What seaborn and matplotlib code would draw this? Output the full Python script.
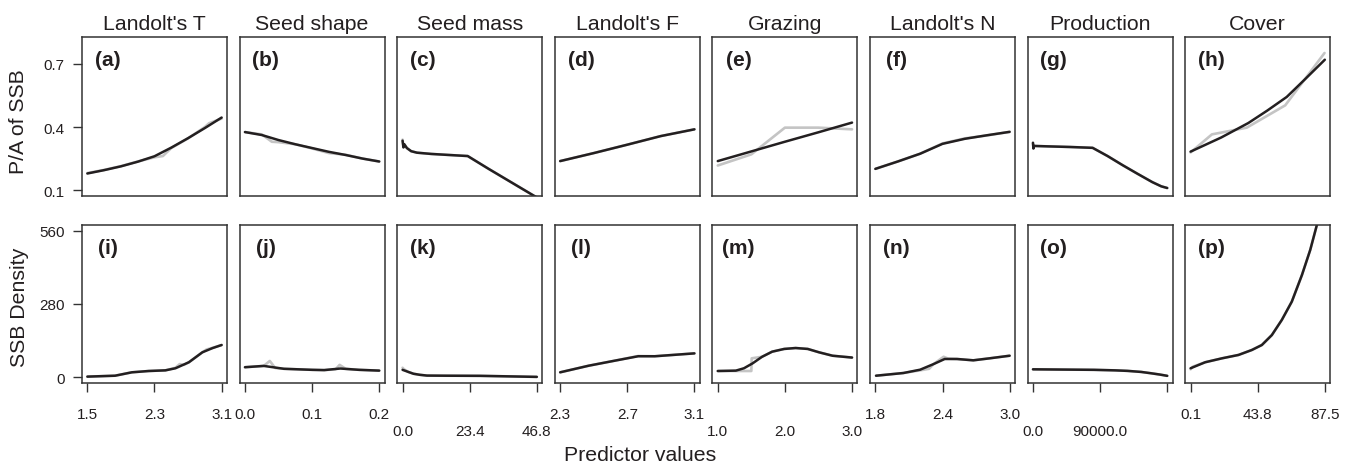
import numpy as np
import pandas as pd
import matplotlib
matplotlib.use("Agg")
import matplotlib.pyplot as plt
import seaborn as sns

# ---------------- data ----------------
titles = ["Landolt's T", "Seed shape", "Seed mass", "Landolt's F",
          "Grazing", "Landolt's N", "Production", "Cover"]
top_letters = ["(a)", "(b)", "(c)", "(d)", "(e)", "(f)", "(g)", "(h)"]
bottom_letters = ["(i)", "(j)", "(k)", "(l)", "(m)", "(n)", "(o)", "(p)"]

xtick_vals = [[1.5, 2.3, 3.1], [0.0, 0.1, 0.2], [0.0, 23.4, 46.8], [2.3, 2.7, 3.1],
              [1.0, 2.0, 3.0], [1.8, 2.4, 3.0], [0.0, 90000.0, 180000.0], [0.1, 43.8, 87.5]]
xtick_labels = [["1.5", "2.3", "3.1"], ["0.0", "0.1", "0.2"], ["0.0", "23.4", "46.8"],
                ["2.3", "2.7", "3.1"], ["1.0", "2.0", "3.0"], ["1.8", "2.4", "3.0"],
                ["0.0", "90000.0", ""], ["0.1", "43.8", "87.5"]]
label_line = [1, 1, 2, 1, 2, 1, 2, 1]

top_yticks = [0.1, 0.4, 0.7]
top_ylim = [0.1, 0.8]
bot_yticks = [0, 280, 560]
bot_ylim = [0, 560]

# --- top row: P/A of SSB (fitted = black, raw = grey)
a_x = [1.5, 1.7, 1.9, 2.1, 2.3, 2.5, 2.7, 2.9, 3.1]
a_fit = [0.179, 0.195, 0.213, 0.235, 0.261, 0.302, 0.347, 0.395, 0.445]
a_rx = [1.5, 1.7, 1.9, 2.1, 2.3, 2.4, 2.5, 2.7, 2.9, 2.95, 3.1]
a_raw = [0.181, 0.196, 0.214, 0.236, 0.256, 0.262, 0.300, 0.346, 0.400, 0.418, 0.440]

b_x = [0.0, 0.025, 0.05, 0.075, 0.1, 0.125, 0.15, 0.175, 0.2]
b_fit = [0.376, 0.362, 0.338, 0.318, 0.300, 0.282, 0.267, 0.250, 0.236]
b_rx = [0.0, 0.025, 0.04, 0.05, 0.075, 0.1, 0.125, 0.15, 0.175, 0.2]
b_raw = [0.376, 0.365, 0.330, 0.328, 0.318, 0.298, 0.276, 0.268, 0.250, 0.236]

c_x = [0.0, 0.3, 0.6, 1.5, 3.0, 5.0, 10.0, 15.0, 22.7, 30.0, 40.0, 46.8]
c_fit = [0.335, 0.303, 0.318, 0.300, 0.285, 0.278, 0.272, 0.268, 0.262, 0.201, 0.120, 0.065]
c_rx = c_x
c_raw = [0.340, 0.305, 0.318, 0.300, 0.285, 0.278, 0.272, 0.268, 0.262, 0.201, 0.120, 0.065]

d_x = [2.3, 2.5, 2.7, 2.9, 3.1]
d_fit = [0.238, 0.276, 0.316, 0.357, 0.389]
d_rx = d_x
d_raw = [0.238, 0.276, 0.316, 0.357, 0.389]

e_x = [1.0, 1.5, 2.0, 2.5, 3.0]
e_fit = [0.238, 0.284, 0.330, 0.375, 0.421]
e_rx = [1.0, 1.5, 2.0, 2.5, 3.0]
e_raw = [0.217, 0.270, 0.397, 0.397, 0.389]

f_x = [1.8, 2.0, 2.2, 2.4, 2.6, 2.8, 3.0]
f_fit = [0.201, 0.236, 0.273, 0.320, 0.344, 0.361, 0.377]
f_rx = f_x
f_raw = [0.201, 0.236, 0.273, 0.322, 0.346, 0.360, 0.377]

g_x = [0, 600, 1500, 20000, 50000, 80000, 100000, 120000, 140000, 160000, 172000, 180000]
g_fit = [0.325, 0.298, 0.310, 0.308, 0.305, 0.301, 0.262, 0.219, 0.178, 0.138, 0.118, 0.110]
g_rx = g_x
g_raw = g_fit

h_x = [0.1, 20.0, 37.7, 50.0, 62.7, 75.0, 87.5]
h_fit = [0.283, 0.350, 0.419, 0.478, 0.543, 0.630, 0.720]
h_rx = [0.1, 14.0, 36.7, 61.7, 87.3]
h_raw = [0.279, 0.365, 0.397, 0.503, 0.752]

# --- bottom row: SSB density
i_x = [1.5, 1.83, 2.03, 2.23, 2.43, 2.55, 2.71, 2.87, 2.99, 3.1]
i_fit = [2, 5.5, 18.5, 23.5, 26, 34, 57, 95, 111, 123]
i_rx = [1.5, 1.83, 2.03, 2.23, 2.43, 2.55, 2.6, 2.65, 2.71, 2.87, 2.92, 2.99, 3.1]
i_raw = [2, 5.5, 18.5, 23.5, 26, 36, 50, 47, 57, 95, 106, 112, 123]

j_x = [0.0, 0.028, 0.058, 0.1, 0.118, 0.142, 0.17, 0.2]
j_fit = [38, 43, 32, 28, 27, 33, 28, 25]
j_rx = [0.0, 0.028, 0.037, 0.045, 0.058, 0.1, 0.118, 0.135, 0.141, 0.15, 0.17, 0.2]
j_raw = [38, 43, 62, 35, 32, 28, 27, 30, 47, 32, 28, 25]

k_x = [0.0, 2.0, 3.8, 6.0, 8.5, 15.0, 27.0, 37.0, 46.8]
k_fit = [28, 20, 13, 9, 6, 5.5, 5, 3, 1]
k_rx = [0.0, 0.5, 2.0, 3.8, 6.0, 8.5, 15.0, 27.0, 37.0, 46.8]
k_raw = [36, 30, 20, 13, 9, 6, 5.5, 5, 3, 1]

l_x = [2.3, 2.47, 2.625, 2.765, 2.864, 3.1]
l_fit = [18.5, 43.8, 63, 80, 80, 91]
l_rx = l_x
l_raw = [18.5, 43.8, 63, 81, 80, 91]

m_x = [1.0, 1.27, 1.39, 1.52, 1.66, 1.81, 1.99, 2.16, 2.34, 2.51, 2.71, 3.0]
m_fit = [23.5, 25, 34, 53, 78, 97.5, 108, 111.5, 108, 95, 82, 75]
m_rx = [1.0, 1.27, 1.50, 1.505, 1.66, 1.81, 1.99, 2.16, 2.34, 2.51, 2.71, 3.0]
m_raw = [23.5, 23.5, 23.5, 72, 78, 97.5, 108, 111.5, 108, 95, 82, 75]

n_x = [1.806, 2.05, 2.20, 2.32, 2.42, 2.53, 2.675, 2.82, 3.0]
n_fit = [5.5, 15.8, 28.5, 50, 69.5, 69.5, 64.4, 72, 82]
n_rx = [1.806, 2.05, 2.20, 2.28, 2.32, 2.41, 2.45, 2.53, 2.675, 2.82, 3.0]
n_raw = [5.5, 15.8, 26, 32, 50, 78, 71, 69.5, 64.4, 72, 82]

o_x = [0, 40000, 81900, 110000, 126700, 145000, 158000, 170000, 180000]
o_fit = [30, 29, 28, 26, 24, 20, 15, 10, 5]
o_rx = o_x
o_raw = o_fit

p_x = [0.1, 9.6, 20.5, 31.3, 40.0, 46.5, 53.0, 59.5, 66.0, 72.6, 78.0, 82.3, 87.5]
p_fit = [34, 57, 72, 85, 104, 123, 161, 219, 289, 391, 487, 582, 697]
p_rx = [0.1, 1.5, 9.6, 20.5, 31.3, 40.0, 46.5, 53.0, 59.5, 66.0, 72.6, 78.0, 82.3, 87.5]
p_raw = [30, 40, 57, 72, 85, 104, 123, 161, 219, 289, 391, 487, 582, 697]

top_series = [(a_x, a_fit, a_rx, a_raw), (b_x, b_fit, b_rx, b_raw), (c_x, c_fit, c_rx, c_raw),
              (d_x, d_fit, d_rx, d_raw), (e_x, e_fit, e_rx, e_raw), (f_x, f_fit, f_rx, f_raw),
              (g_x, g_fit, g_rx, g_raw), (h_x, h_fit, h_rx, h_raw)]
bot_series = [(i_x, i_fit, i_rx, i_raw), (j_x, j_fit, j_rx, j_raw), (k_x, k_fit, k_rx, k_raw),
              (l_x, l_fit, l_rx, l_raw), (m_x, m_fit, m_rx, m_raw), (n_x, n_fit, n_rx, n_raw),
              (o_x, o_fit, o_rx, o_raw), (p_x, p_fit, p_rx, p_raw)]

# ---------------- style ----------------
sns.set_style("white")
plt.rcParams['font.family'] = ['Liberation Sans', 'DejaVu Sans']
INK = "#231f20"
GREY = "#c4c4c4"

W, H = 1352, 464
fig = plt.figure(figsize=(W / 100, H / 100), dpi=100)


def expand(lo, hi, f=0.04):
    r = hi - lo
    return lo - f * r, hi + f * r


panel_w = 145
rows = [(38, 197), (226, 384)]

for r, (series, letters) in enumerate([(top_series, top_letters), (bot_series, bottom_letters)]):
    ytop, ybot = rows[r]
    for c in range(8):
        left = 82 + c * 157.6
        ax = fig.add_axes([left / W, 1 - ybot / H, panel_w / W, (ybot - ytop) / H])
        xs, fit, rxs, raw = series[c]
        sns.lineplot(x=rxs, y=raw, ax=ax, color=GREY, lw=1.9, estimator=None, sort=False,
                     solid_joinstyle='round', solid_capstyle='round')
        sns.lineplot(x=xs, y=fit, ax=ax, color=INK, lw=1.8, estimator=None, sort=False,
                     solid_joinstyle='round', solid_capstyle='round')
        tv = xtick_vals[c]
        ax.set_xlim(*expand(tv[0], tv[-1]))
        if r == 0:
            ax.set_ylim(*expand(*top_ylim))
            ax.set_yticks(top_yticks)
            ax.set_yticklabels(["0.1", "0.4", "0.7"])
        else:
            ax.set_ylim(*expand(*bot_ylim))
            ax.set_yticks(bot_yticks)
            ax.set_yticklabels(["0", "280", "560"])
        ax.set_xticks(tv)
        ax.set_xticklabels(xtick_labels[c])
        for sp in ax.spines.values():
            sp.set_visible(True)
            sp.set_color("#333333")
            sp.set_linewidth(1.1)
        ax.tick_params(axis='both', direction='out', length=6.5, width=1.0,
                       color="#333333", labelsize=11, labelcolor=INK)
        ax.tick_params(axis='y', pad=6)
        if r == 0:
            ax.tick_params(axis='x', bottom=False, labelbottom=False)
        else:
            ax.tick_params(axis='x', bottom=True, labelbottom=True,
                           pad=10.5 if label_line[c] == 1 else 23)
        if c != 0:
            ax.tick_params(axis='y', left=False, labelleft=False)
        else:
            ax.tick_params(axis='y', left=True, labelleft=True)
        ax.set_xlabel("")
        ax.set_ylabel("")
        ax.text(0.18, 0.86, letters[c], transform=ax.transAxes, ha='center', va='center',
                fontsize=15, fontweight='bold', color=INK)
        if r == 0:
            fig.text((left + panel_w / 2) / W, 1 - 24 / H, titles[c], ha='center', va='center',
                     fontsize=15.3, color=INK)

fig.text(19 / W, 1 - 122 / H, "P/A of SSB", rotation=90, ha='center', va='center',
         fontsize=15.3, color=INK)
fig.text(20 / W, 1 - 307 / H, "SSB Density", rotation=90, ha='center', va='center',
         fontsize=15.3, color=INK)
fig.text(640 / W, 1 - 456 / H, "Predictor values", ha='center', va='center',
         fontsize=15.3, color=INK)

fig.savefig("out.png", dpi=100)
